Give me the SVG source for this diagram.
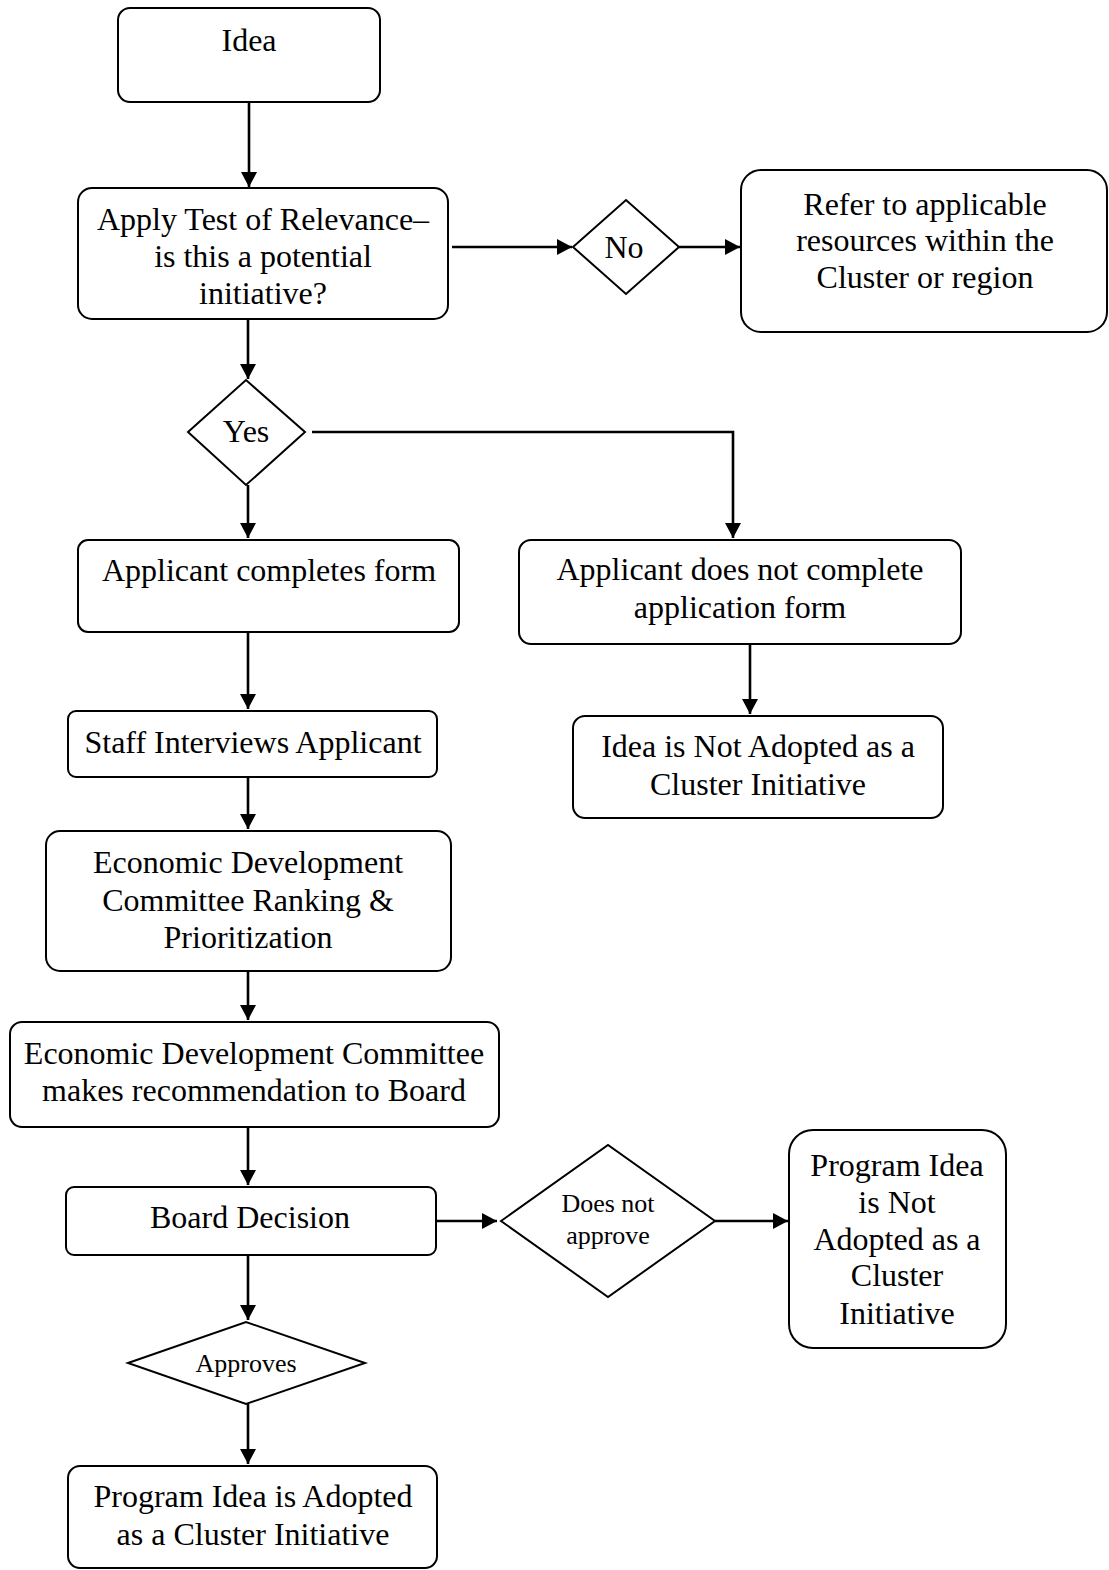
<svg xmlns="http://www.w3.org/2000/svg" width="1109" height="1570" viewBox="0 0 1109 1570">
<style>
.box{fill:#fff;stroke:#000;stroke-width:2}
.t{font-family:"Liberation Serif","Times New Roman",serif;font-size:32px;fill:#000;text-anchor:middle}
.s{font-family:"Liberation Serif","Times New Roman",serif;font-size:26px;fill:#000;text-anchor:middle}
.c{fill:none;stroke:#000;stroke-width:2.6}
</style>
<defs>
<marker id="ah" markerUnits="userSpaceOnUse" markerWidth="16" markerHeight="16" refX="15" refY="8" orient="auto">
<path d="M0,0 L15,8 L0,16 Z" fill="#000"/>
</marker>
</defs>
<rect width="1109" height="1570" fill="#fff"/>
<g id="connectors">
<path class="c" d="M249,102 V187" marker-end="url(#ah)"/>
<path class="c" d="M452,247 H572" marker-end="url(#ah)"/>
<path class="c" d="M679,247 H740" marker-end="url(#ah)"/>
<path class="c" d="M248,319 V379" marker-end="url(#ah)"/>
<path class="c" d="M248,485 V538" marker-end="url(#ah)"/>
<path class="c" d="M312,432 H733 V538" marker-end="url(#ah)"/>
<path class="c" d="M750,644 V714" marker-end="url(#ah)"/>
<path class="c" d="M248,632 V709" marker-end="url(#ah)"/>
<path class="c" d="M248,777 V829" marker-end="url(#ah)"/>
<path class="c" d="M248,971 V1020" marker-end="url(#ah)"/>
<path class="c" d="M248,1127 V1185" marker-end="url(#ah)"/>
<path class="c" d="M436,1221 H497" marker-end="url(#ah)"/>
<path class="c" d="M715,1221 H788" marker-end="url(#ah)"/>
<path class="c" d="M248,1255 V1320" marker-end="url(#ah)"/>
<path class="c" d="M248,1404 V1464" marker-end="url(#ah)"/>
</g>
<g id="idea">
<rect class="box" x="118" y="8" width="262" height="94" rx="12"/>
<text class="t" x="249" y="51">Idea</text>
</g>
<g id="apply-test">
<rect class="box" x="78" y="188" width="370" height="131" rx="14"/>
<text class="t" x="263" y="230">Apply Test of Relevance–</text>
<text class="t" x="263" y="267">is this a potential</text>
<text class="t" x="263" y="304">initiative?</text>
</g>
<g id="no">
<polygon class="box" points="573,247 626,200 679,247 626,294"/>
<text class="t" x="624" y="258">No</text>
</g>
<g id="refer">
<rect class="box" x="741" y="170" width="366" height="162" rx="20"/>
<text class="t" x="925" y="215">Refer to applicable</text>
<text class="t" x="925" y="251">resources within the</text>
<text class="t" x="925" y="288">Cluster or region</text>
</g>
<g id="yes">
<polygon class="box" points="188,432 246,380 305,432 246,485"/>
<text class="t" x="246" y="442">Yes</text>
</g>
<g id="completes">
<rect class="box" x="78" y="540" width="381" height="92" rx="10"/>
<text class="t" x="269" y="581">Applicant completes form</text>
</g>
<g id="not-complete">
<rect class="box" x="519" y="540" width="442" height="104" rx="12"/>
<text class="t" x="740" y="580">Applicant does not complete</text>
<text class="t" x="740" y="618">application form</text>
</g>
<g id="not-adopted">
<rect class="box" x="573" y="716" width="370" height="102" rx="12"/>
<text class="t" x="758" y="757">Idea is Not Adopted as a</text>
<text class="t" x="758" y="795">Cluster Initiative</text>
</g>
<g id="staff">
<rect class="box" x="68" y="711" width="369" height="66" rx="8"/>
<text class="t" x="253" y="753">Staff Interviews Applicant</text>
</g>
<g id="ranking">
<rect class="box" x="46" y="831" width="405" height="140" rx="14"/>
<text class="t" x="248" y="873">Economic Development</text>
<text class="t" x="248" y="911">Committee Ranking &amp;</text>
<text class="t" x="248" y="948">Prioritization</text>
</g>
<g id="recommendation">
<rect class="box" x="10" y="1022" width="489" height="105" rx="12"/>
<text class="t" x="254" y="1064">Economic Development Committee</text>
<text class="t" x="254" y="1101">makes recommendation to Board</text>
</g>
<g id="board">
<rect class="box" x="66" y="1187" width="370" height="68" rx="8"/>
<text class="t" x="250" y="1228">Board Decision</text>
</g>
<g id="does-not-approve">
<polygon class="box" points="501,1221 608,1145 715,1221 608,1297"/>
<text class="s" x="608" y="1212">Does not</text>
<text class="s" x="608" y="1244">approve</text>
</g>
<g id="program-not-adopted">
<rect class="box" x="789" y="1130" width="217" height="218" rx="24"/>
<text class="t" x="897" y="1176">Program Idea</text>
<text class="t" x="897" y="1213">is Not</text>
<text class="t" x="897" y="1250">Adopted as a</text>
<text class="t" x="897" y="1286">Cluster</text>
<text class="t" x="897" y="1324">Initiative</text>
</g>
<g id="approves">
<polygon class="box" points="128,1363 246,1322 365,1363 246,1404"/>
<text class="s" x="246" y="1372">Approves</text>
</g>
<g id="adopted">
<rect class="box" x="68" y="1466" width="369" height="102" rx="12"/>
<text class="t" x="253" y="1507">Program Idea is Adopted</text>
<text class="t" x="253" y="1545">as a Cluster Initiative</text>
</g>
</svg>
